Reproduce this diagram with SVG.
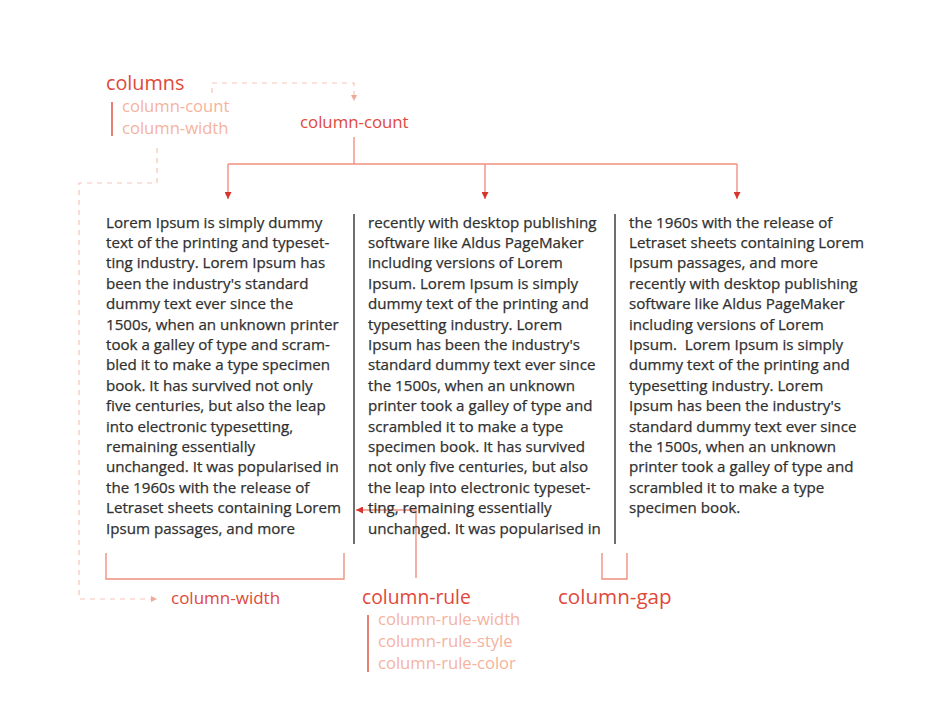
<svg xmlns="http://www.w3.org/2000/svg" width="941" height="720" viewBox="0 0 941 720">
<defs>
<style>
.body{font-family:"Open Sans","Liberation Sans",sans-serif;font-size:15.15px;fill:#303030;stroke:#303030;stroke-width:0.25}
.head{font-family:"Open Sans","Liberation Sans",sans-serif;fill:#e0483a}
.sub{font-family:"Open Sans","Liberation Sans",sans-serif;font-size:16.6px;fill:#f5b39e}
.conn{stroke:#f0907f;stroke-width:1.4;fill:none}
.dash{stroke:#f6c3b8;stroke-width:1.2;fill:none;stroke-dasharray:5 5}
.rule{stroke:#4a4a4a;stroke-width:1.6}
.bar{stroke:#e0604f;stroke-width:1.6}
</style>
<marker id="arr" viewBox="0 0 10 10" refX="10" refY="5" markerWidth="7" markerHeight="7" orient="auto" markerUnits="userSpaceOnUse">
<path d="M0,0 L10,5 L0,10 z" fill="#d9342b"/>
</marker>
<marker id="arrL" viewBox="0 0 10 10" refX="10" refY="5" markerWidth="6" markerHeight="6" orient="auto" markerUnits="userSpaceOnUse">
<path d="M0,0 L10,5 L0,10 z" fill="#f2a899"/>
</marker>
</defs>
<rect width="941" height="720" fill="#fff"/>

<g id="connectors">
<path class="dash" d="M212,93 V83 H354 V101" marker-end="url(#arrL)"/>
<path class="dash" d="M157,148 V183 H79 V599 H157" marker-end="url(#arrL)"/>
<path class="conn" d="M354,137 V164"/>
<path class="conn" d="M228,164 H737"/>
<path class="conn" d="M228,164 V199" marker-end="url(#arr)"/>
<path class="conn" d="M485,164 V199" marker-end="url(#arr)"/>
<path class="conn" d="M737,164 V199" marker-end="url(#arr)"/>
<path class="conn" d="M106,553 V579 H344 V553"/>
<path class="conn" d="M602,553 V579 H627 V553"/>
<path class="conn" d="M416,578 V510 H356" marker-end="url(#arr)"/>
</g>

<g id="rules">
<line class="rule" x1="354" y1="214" x2="354" y2="544"/>
<line class="rule" x1="615" y1="214" x2="615" y2="544"/>
</g>

<g id="columns-label">
<text class="head" x="106" y="90" font-size="19.8">columns</text>
<line class="bar" x1="112" y1="102" x2="112" y2="136"/>
<text class="sub" x="122" y="112">column-count</text>
<text class="sub" x="122" y="134">column-width</text>
</g>

<g id="column-count-label">
<text class="head" x="300" y="128" font-size="16.8">column-count</text>
</g>

<g id="column-width-label">
<text class="head" x="171" y="604" font-size="17">column-width</text>
</g>

<g id="column-rule-label">
<text class="head" x="362" y="604" font-size="19.3">column-rule</text>
<line class="bar" x1="368" y1="615" x2="368" y2="672"/>
<text class="sub" x="378" y="625">column-rule-width</text>
<text class="sub" x="378" y="647">column-rule-style</text>
<text class="sub" x="378" y="669">column-rule-color</text>
</g>

<g id="column-gap-label">
<text class="head" x="558" y="604" font-size="20.6">column-gap</text>
</g>

<g id="col1">
<text class="body" x="106" y="227.5">Lorem Ipsum is simply dummy</text>
<text class="body" x="106" y="247.9">text of the printing and typeset-</text>
<text class="body" x="106" y="268.3">ting industry. Lorem Ipsum has</text>
<text class="body" x="106" y="288.7">been the industry's standard</text>
<text class="body" x="106" y="309.1">dummy text ever since the</text>
<text class="body" x="106" y="329.5">1500s, when an unknown printer</text>
<text class="body" x="106" y="349.9">took a galley of type and scram-</text>
<text class="body" x="106" y="370.3">bled it to make a type specimen</text>
<text class="body" x="106" y="390.7">book. It has survived not only</text>
<text class="body" x="106" y="411.1">five centuries, but also the leap</text>
<text class="body" x="106" y="431.5">into electronic typesetting,</text>
<text class="body" x="106" y="451.9">remaining essentially</text>
<text class="body" x="106" y="472.3">unchanged. It was popularised in</text>
<text class="body" x="106" y="492.7">the 1960s with the release of</text>
<text class="body" x="106" y="513.1">Letraset sheets containing Lorem</text>
<text class="body" x="106" y="533.5">Ipsum passages, and more</text>
</g>

<g id="col2">
<text class="body" x="368" y="227.5">recently with desktop publishing</text>
<text class="body" x="368" y="247.9">software like Aldus PageMaker</text>
<text class="body" x="368" y="268.3">including versions of Lorem</text>
<text class="body" x="368" y="288.7">Ipsum. Lorem Ipsum is simply</text>
<text class="body" x="368" y="309.1">dummy text of the printing and</text>
<text class="body" x="368" y="329.5">typesetting industry. Lorem</text>
<text class="body" x="368" y="349.9">Ipsum has been the industry's</text>
<text class="body" x="368" y="370.3">standard dummy text ever since</text>
<text class="body" x="368" y="390.7">the 1500s, when an unknown</text>
<text class="body" x="368" y="411.1">printer took a galley of type and</text>
<text class="body" x="368" y="431.5">scrambled it to make a type</text>
<text class="body" x="368" y="451.9">specimen book. It has survived</text>
<text class="body" x="368" y="472.3">not only five centuries, but also</text>
<text class="body" x="368" y="492.7">the leap into electronic typeset-</text>
<text class="body" x="368" y="513.1">ting, remaining essentially</text>
<text class="body" x="368" y="533.5">unchanged. It was popularised in</text>
</g>

<g id="col3">
<text class="body" x="629" y="227.5">the 1960s with the release of</text>
<text class="body" x="629" y="247.9">Letraset sheets containing Lorem</text>
<text class="body" x="629" y="268.3">Ipsum passages, and more</text>
<text class="body" x="629" y="288.7">recently with desktop publishing</text>
<text class="body" x="629" y="309.1">software like Aldus PageMaker</text>
<text class="body" x="629" y="329.5">including versions of Lorem</text>
<text class="body" x="629" y="349.9" xml:space="preserve">Ipsum.  Lorem Ipsum is simply</text>
<text class="body" x="629" y="370.3">dummy text of the printing and</text>
<text class="body" x="629" y="390.7">typesetting industry. Lorem</text>
<text class="body" x="629" y="411.1">Ipsum has been the industry's</text>
<text class="body" x="629" y="431.5">standard dummy text ever since</text>
<text class="body" x="629" y="451.9">the 1500s, when an unknown</text>
<text class="body" x="629" y="472.3">printer took a galley of type and</text>
<text class="body" x="629" y="492.7">scrambled it to make a type</text>
<text class="body" x="629" y="513.1">specimen book.</text>
</g>
</svg>
